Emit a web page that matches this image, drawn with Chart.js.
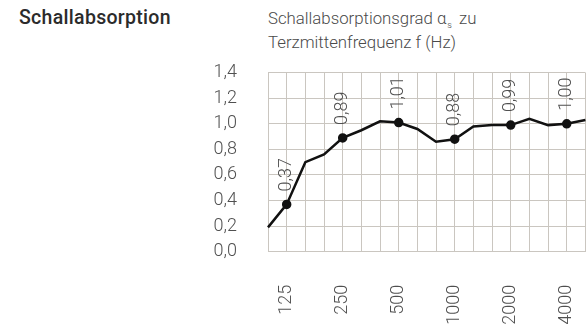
<!DOCTYPE html>
<html>
<head>
<meta charset="utf-8">
<script src="https://cdn.jsdelivr.net/npm/chart.js@4"></script>
<style>
  html, body { margin: 0; padding: 0; background: #fff; }
  body { width: 588px; height: 324px; overflow: hidden; position: relative; font-family: Roboto, 'DejaVu Sans', sans-serif; }
  .heading { position: absolute; left: 19px; top: 6px; font-size: 19.5px; font-weight: 500; color: #2b2b2b; letter-spacing: 0.3px; }
  .subtitle { position: absolute; left: 268px; top: 6px; font-size: 16.8px; font-weight: 300; line-height: 24px; color: #4a4a4a; }
  .subtitle sub { font-size: 9px; line-height: 0; vertical-align: -4px; margin-left: 1px; margin-right: 3px; }
  #chart { position: absolute; left: 180px; top: 0; }
</style>
</head>
<body>
<div class="heading">Schallabsorption</div>
<div class="subtitle">Schallabsorptionsgrad α<sub>s</sub> zu<br>Terzmittenfrequenz f (Hz)</div>
<canvas id="chart" width="460" height="324"></canvas>
<script>
// third-octave centre frequencies and measured absorption
const freqs = ['100', '125', '160', '200', '250', '315', '400', '500', '630',
  '800', '1000', '1250', '1600', '2000', '2500', '3150', '4000', '5000'];
const alpha = [0.19, 0.37, 0.70, 0.76, 0.89, 0.95, 1.02, 1.01, 0.96,
  0.86, 0.88, 0.98, 0.99, 0.99, 1.04, 0.99, 1.00, 1.03];
// octave bands that get a tick label, a dot and a value label
const octaves = ['125', '250', '500', '1000', '2000', '4000'];
const yTicks = [0, 0.2, 0.4, 0.6, 0.8, 1.0, 1.2, 1.4];

const gridColor = '#cac6c0';
const textColor = '#505050';
const fmt = v => v.toFixed(2).replace('.', ',');

// rotated value labels above the octave dots
const valueLabels = {
  id: 'valueLabels',
  afterDatasetsDraw(chart) {
    const ctx = chart.ctx;
    const meta = chart.getDatasetMeta(0);
    ctx.save();
    ctx.font = '300 18px Roboto';
    ctx.fillStyle = textColor;
    ctx.textAlign = 'left';
    ctx.textBaseline = 'middle';
    freqs.forEach((f, i) => {
      if (!octaves.includes(f)) return;
      const pt = meta.data[i];
      ctx.save();
      ctx.translate(pt.x, pt.y - 13);
      ctx.rotate(-Math.PI / 2);
      ctx.fillText(fmt(alpha[i]), 0, 0);
      ctx.restore();
    });
    ctx.restore();
  }
};

new Chart(document.getElementById('chart'), {
  type: 'line',
  data: {
    labels: freqs,
    datasets: [{
      data: alpha,
      borderColor: '#111',
      borderWidth: 2.5,
      backgroundColor: '#111',
      pointRadius: freqs.map(f => octaves.includes(f) ? 3.5 : 0),
      pointHoverRadius: 0,
      tension: 0,
      fill: false
    }]
  },
  options: {
    responsive: false,
    animation: false,
    devicePixelRatio: 1,
    layout: { padding: { top: 72.7, right: 49, left: 0, bottom: 0 } },
    plugins: { legend: { display: false }, tooltip: { enabled: false } },
    scales: {
      x: {
        offset: false,
        grid: { color: gridColor, drawTicks: false },
        border: { color: gridColor },
        ticks: {
          autoSkip: false,
          minRotation: 90,
          maxRotation: 90,
          padding: 33,
          color: textColor,
          font: { family: 'Roboto', size: 18, weight: 300 },
          callback: (v, i) => octaves.includes(freqs[i]) ? freqs[i] : ''
        },
        afterFit: s => { s.height = 72.3; }
      },
      y: {
        min: 0,
        max: 1.4,
        afterBuildTicks: s => { s.ticks = yTicks.map(v => ({ value: v })); },
        grid: { color: gridColor, drawTicks: false },
        border: { color: gridColor },
        ticks: {
          padding: 31,
          color: textColor,
          font: { family: 'Roboto', size: 18, weight: 300 },
          callback: v => v.toFixed(1).replace('.', ',')
        },
        afterFit: s => { s.width = 88; }
      }
    }
  },
  plugins: [valueLabels]
});
</script>
</body>
</html>
